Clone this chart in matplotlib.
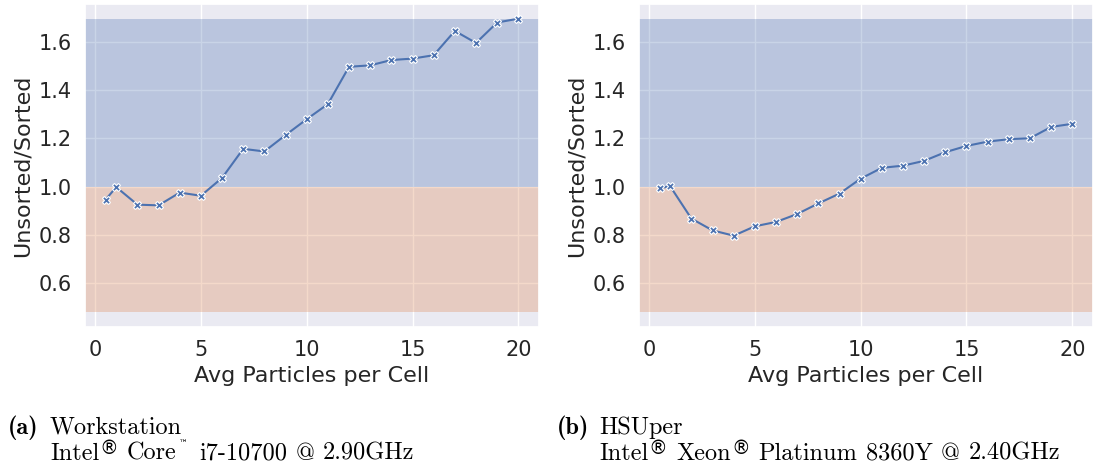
import numpy as np
import matplotlib
matplotlib.use("Agg")
import matplotlib.pyplot as plt
import seaborn as sns

# avg particles per cell (x) and runtime ratio unsorted/sorted (y)
ppc = [0.5, 1, 2, 3, 4, 5, 6, 7, 8, 9, 10, 11, 12, 13, 14, 15, 16, 17, 18, 19, 20]
ratio_ws = [0.946, 0.998, 0.925, 0.922, 0.975, 0.962, 1.036, 1.157, 1.146, 1.214,
            1.280, 1.343, 1.498, 1.504, 1.526, 1.532, 1.546, 1.647, 1.597, 1.682, 1.698]
ratio_hsu = [0.994, 1.001, 0.867, 0.818, 0.796, 0.835, 0.853, 0.886, 0.930, 0.971,
             1.033, 1.078, 1.087, 1.107, 1.143, 1.169, 1.187, 1.197, 1.201, 1.248, 1.261]

# shaded regions: slower (orange) below 1, faster (blue) above 1
span_lo = 0.4775
span_hi = 1.698

tags = ["(a)", "(b)"]
names = ["Workstation", "HSUper"]
cpus = [["Intel", "®", "Core", "™", "i7-10700 @ 2.90GHz"],
        ["Intel", "®", "Xeon", "®", "Platinum 8360Y @ 2.40GHz"]]

sns.set_theme(style="darkgrid")
pal = sns.color_palette("deep")

W, H = 1097, 468
fig = plt.figure(figsize=(W / 100, H / 100), dpi=100)
ax1 = fig.add_axes([0.0775, 0.3013, 0.4138, 0.6902])
ax2 = fig.add_axes([0.5825, 0.3013, 0.4138, 0.6902], sharey=ax1)

for ax, y in [(ax1, ratio_ws), (ax2, ratio_hsu)]:
    ax.axhspan(1.0, span_hi, color=pal[0], alpha=0.3, lw=0)
    ax.axhspan(span_lo, 1.0, color=pal[1], alpha=0.3, lw=0)
    sns.lineplot(x=ppc, y=y, ax=ax, marker="X", color=pal[0],
                 markersize=6, markeredgecolor="white", markeredgewidth=0.8)
    ax.set_xlabel("Avg Particles per Cell", fontsize=16)
    ax.set_ylabel("Unsorted/Sorted", fontsize=16)
    ax.tick_params(labelsize=15)
    ax.set_xticks([0, 5, 10, 15, 20])
    ax.set_yticks([0.6, 0.8, 1.0, 1.2, 1.4, 1.6])
    ax.tick_params(axis="y", labelleft=True)

renderer = fig.canvas.get_renderer()

def put(x, y, s, size=17.5, family="cmr10", dy=0):
    # place text at pixel coords (top-left origin), return right edge in px
    t = fig.text(x / W, 1 - (y - dy) / H, s, fontsize=size, family=family,
                 color="black")
    bb = t.get_window_extent(renderer=renderer)
    return bb.x1

# subfigure captions below each panel
space = 8.5
for tag, name, cpu, x0 in zip(tags, names, cpus, [8, 557]):
    put(x0, 434, tag, family="cmb10")
    xn = x0 + 42
    put(xn, 434, name)
    x = xn
    for seg in cpu:
        if seg == "®":
            x = put(x + 0.5, 460, seg, size=13.5, family="DejaVu Sans", dy=6) + space
        elif seg == "™":
            x = put(x + 2, 460, seg, size=6.5, family="DejaVu Sans", dy=14) + space + 3
        else:
            for w in seg.split(" "):
                x = put(x, 460, w) + space
            x -= space

fig.savefig("out.png", dpi=100)
